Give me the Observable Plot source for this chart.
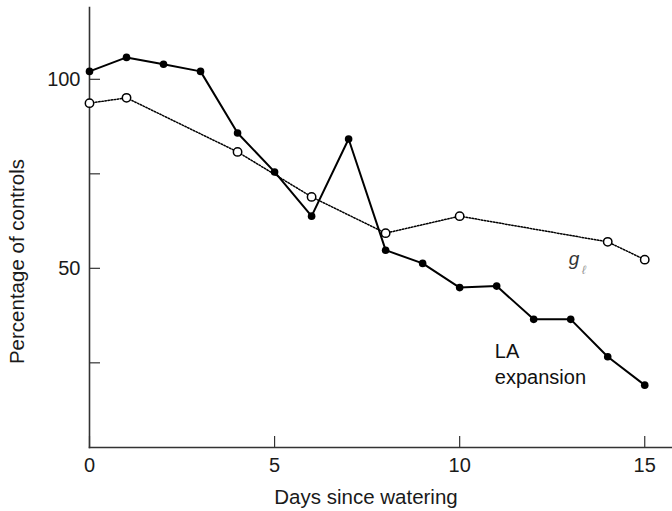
<!DOCTYPE html>
<html>
<head>
<meta charset="utf-8">
<script src="https://cdn.jsdelivr.net/npm/d3@7"></script>
<script src="https://cdn.jsdelivr.net/npm/@observablehq/plot@0.6"></script>
<style>
  body { margin: 0; background: #fff; }
  #chart svg { display: block; }
</style>
</head>
<body>
<div id="chart"></div>
<script>
// ---- data ----
const laDays = [0, 1, 2, 3, 4, 5, 6, 7, 8, 9, 10, 11, 12, 13, 14, 15];
const laValues = [102.1, 105.8, 104.0, 102.1, 85.8, 75.5, 63.8, 84.2, 54.8, 51.3, 44.9, 45.3, 36.5, 36.5, 26.6, 19.1];
const glDays = [0, 1, 4, 6, 8, 10, 14, 15];
const glValues = [93.7, 95.1, 80.8, 68.9, 59.3, 63.8, 57.0, 52.3];
const xTicks = [0, 5, 10, 15];
const yTicks = [25, 50, 75, 100];
const yTickLabels = ["", "50", "", "100"];
const xTitle = "Days since watering";
const yTitle = "Percentage of controls";
const laLabel = "LA\nexpansion";
const glLabel = "g";
const glSub = "\u2113";

const la = laDays.map((d, i) => ({day: d, value: laValues[i]}));
const gl = glDays.map((d, i) => ({day: d, value: glValues[i]}));

const font = "'Liberation Sans', Arial, Helvetica, sans-serif";

const chart = Plot.plot({
  width: 672,
  height: 511,
  marginLeft: 89,
  marginRight: 0,
  marginTop: 7,
  marginBottom: 64,
  style: {fontFamily: font, fontSize: "20px", color: "#1a1a1a", background: "#fff", overflow: "visible"},
  x: {domain: [0, 15.75]},
  y: {domain: [2.6, 119]},
  marks: [
    Plot.frame({anchor: "left", stroke: "#333", strokeWidth: 1.6}),
    Plot.frame({anchor: "bottom", stroke: "#333", strokeWidth: 1.6}),
    Plot.axisX({
      ticks: xTicks, tickSize: -11, tickPadding: 21, label: null,
      stroke: "#333", strokeWidth: 1.2, fill: "#1a1a1a", fontSize: 20,
      tickFormat: d => String(d)
    }),
    Plot.axisY({
      ticks: yTicks, tickSize: -11, tickPadding: 20, label: null,
      stroke: "#333", strokeWidth: 1.2, fill: "#1a1a1a", fontSize: 20,
      tickFormat: d => yTickLabels[yTicks.indexOf(d)]
    }),
    Plot.text([xTitle], {frameAnchor: "bottom", textAnchor: "middle", lineAnchor: "middle", dx: -15, dy: 50, fontSize: 20.5, fill: "#1a1a1a"}),
    Plot.text([yTitle], {frameAnchor: "left", textAnchor: "middle", lineAnchor: "middle", rotate: -90, dx: -72, dy: 34, fontSize: 20.5, fill: "#1a1a1a"}),
    // LA expansion series
    Plot.line(la, {x: "day", y: "value", stroke: "#000", strokeWidth: 2}),
    Plot.dot(la, {x: "day", y: "value", r: 3.8, fill: "#000", stroke: "none"}),
    // g_l series
    Plot.line(gl, {x: "day", y: "value", stroke: "#000", strokeWidth: 1.5, strokeDasharray: "1.5,1.6"}),
    Plot.dot(gl, {x: "day", y: "value", r: 4.2, fill: "#fff", stroke: "#000", strokeWidth: 1.5}),
    // labels
    Plot.text([laLabel], {x: 10.95, y: 19.5, textAnchor: "start", lineAnchor: "bottom", lineHeight: 1.28, fontSize: 20, fill: "#111"}),
    Plot.text([glLabel], {x: 12.95, y: 50.9, textAnchor: "start", lineAnchor: "bottom", fontSize: 19, fontStyle: "italic", fill: "#333"}),
    Plot.text([glSub], {x: 13.3, y: 48.6, textAnchor: "start", lineAnchor: "bottom", fontSize: 12, fontStyle: "italic", fill: "#999"})
  ]
});
document.getElementById("chart").appendChild(chart);
</script>
</body>
</html>
